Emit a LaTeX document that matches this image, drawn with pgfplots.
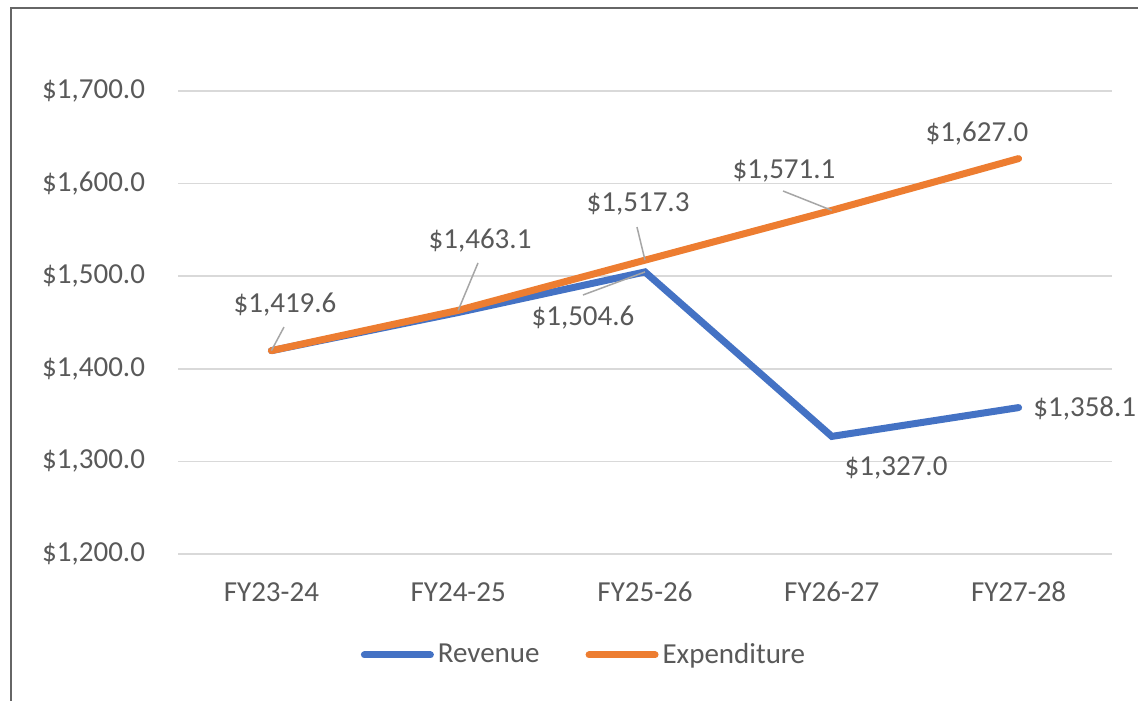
\documentclass[border=0pt]{standalone}
\usepackage{fontspec}
\setmainfont{Carlito}
\usepackage{pgfplots}
\pgfplotsset{compat=1.18}
\definecolor{rev}{HTML}{4472C4}
\definecolor{expc}{HTML}{ED7D31}
\definecolor{txt}{HTML}{595959}
\definecolor{gridc}{HTML}{D9D9D9}
\definecolor{lead}{HTML}{A6A6A6}
\definecolor{framec}{HTML}{666666}
\tikzset{lbl/.style={font=\fontsize{14.5}{17}\selectfont, text=txt, inner sep=0pt}}
\begin{document}
\begin{tikzpicture}
\clip (0,0) rectangle (569pt,350pt);
\fill[white] (0,0) rectangle (569pt,350pt);
\draw[color=framec, line width=1.3pt] (5.5pt,-2pt) -- (5.5pt,346pt) -- (575pt,346pt);
\begin{axis}[
  at={(89pt,73pt)}, anchor=south west,
  scale only axis, width=467pt, height=231.5pt,
  xmin=-0.5, xmax=4.5, ymin=1200, ymax=1700,
  clip=false,
  axis line style={draw=none},
  ymajorgrids, grid style={gridc, line width=0.75pt},
  major tick length=0pt,
  xtick={0,1,2,3,4},
  xticklabels={FY23-24,FY24-25,FY25-26,FY26-27,FY27-28},
  ytick={1200,1300,1400,1500,1600,1700},
  yticklabels={{\$1,200.0},{\$1,300.0},{\$1,400.0},{\$1,500.0},{\$1,600.0},{\$1,700.0}},
  tick label style={font=\fontsize{14.5}{17}\selectfont, text=txt},
  yticklabel style={anchor=east, xshift=-13pt},
  xticklabel style={anchor=center, yshift=-19pt},
  legend columns=2,
  legend style={at={(0.4358,-0.218)}, anchor=center, draw=none, fill=none,
    font=\fontsize{14.5}{17}\selectfont, text=txt,
    /tikz/every even column/.append style={column sep=21pt}},
  legend image code/.code={\draw[#1, line cap=round] (0pt,0pt) -- (33pt,0pt);},
]
\addplot[rev, line width=3.5pt, line cap=round, line join=miter] coordinates {
  (0,1419.6) (1,1460.8) (2,1504.6) (3,1327.0) (4,1358.1)};
\addlegendentry{Revenue}
\addplot[expc, line width=3.5pt, line cap=round, line join=round] coordinates {
  (0,1419.6) (1,1463.1) (2,1517.3) (3,1571.1) (4,1627.0)};
\addlegendentry{Expenditure}

\draw[lead, line width=0.75pt] (axis cs:0.0675,1445.1) -- (axis cs:0,1419.6);
\draw[lead, line width=0.75pt] (axis cs:1.106,1514.3) -- (axis cs:1,1463.1);
\draw[lead, line width=0.75pt] (axis cs:1.668,1479.7) -- (axis cs:2,1504.6);
\draw[lead, line width=0.75pt] (axis cs:1.957,1553.1) -- (axis cs:2,1517.3);
\draw[lead, line width=0.75pt] (axis cs:2.739,1592.0) -- (axis cs:3,1571.1);

\node[lbl] at (axis cs:0.073,1468.9) {\$1,419.6};
\node[lbl] at (axis cs:1.117,1538.0) {\$1,463.1};
\node[lbl] at (axis cs:1.668,1454.9) {\$1,504.6};
\node[lbl] at (axis cs:1.963,1578.0) {\$1,517.3};
\node[lbl] at (axis cs:2.744,1613.6) {\$1,571.1};
\node[lbl] at (axis cs:3.777,1653.6) {\$1,627.0};
\node[lbl] at (axis cs:3.344,1292.9) {\$1,327.0};
\node[lbl, anchor=west] at (axis cs:4.077,1357.7) {\$1,358.1};
\end{axis}
\end{tikzpicture}
\end{document}
